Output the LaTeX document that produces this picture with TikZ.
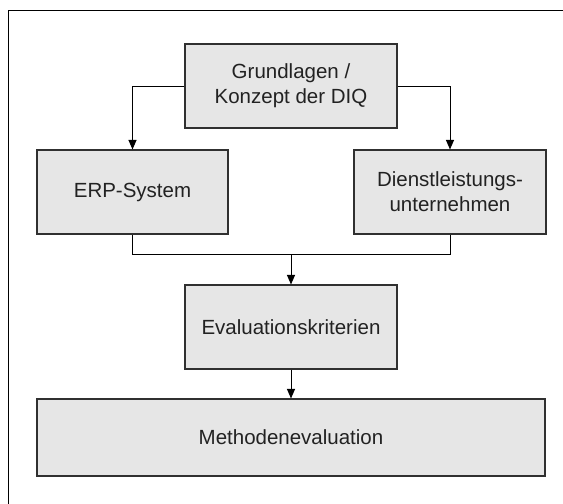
\documentclass[tikz,border=0pt]{standalone}
\usepackage{fontspec}
\setmainfont{Liberation Sans}
\usetikzlibrary{arrows.meta}
\definecolor{boxfill}{HTML}{E6E6E6}
\definecolor{boxline}{HTML}{303030}
\definecolor{txt}{HTML}{222222}
\begin{document}
\begin{tikzpicture}[x=1pt,y=-1pt,
  block/.style={draw=boxline,fill=boxfill,line width=1.1pt,rectangle,
    inner sep=0pt,align=center,text=txt,
    font=\fontsize{20.5}{25}\selectfont},
  link/.style={draw=black,line width=1pt},
  arr/.style={link,-{Triangle[length=9.5pt,width=8pt]}}]
  \useasboundingbox (0,0) rectangle (563,504);
  \clip (0,0) rectangle (563,504);
  \fill[white] (0,0) rectangle (563,504);
  % outer frame
  \draw[black,line width=1pt] (8.5,10) rectangle (580,520);
  % boxes
  \node[block,minimum width=212pt,minimum height=84pt] (grund) at (291,86) {Grundlagen /\\Konzept der DIQ};
  \node[block,minimum width=191pt,minimum height=84pt] (erp) at (132.5,192) {ERP-System};
  \node[block,minimum width=192pt,minimum height=84pt] (dl) at (450,192) {Dienstleistungs-\\unternehmen};
  \node[block,minimum width=212pt,minimum height=84pt] (eval) at (291,327) {Evaluationskriterien};
  \node[block,minimum width=508pt,minimum height=77pt] (meth) at (291,437.5) {Methodenevaluation};
  % connectors
  \draw[arr] (grund.west) -| (erp.north);
  \draw[arr] (grund.east) -| (dl.north);
  \coordinate (merge) at (291,254.5);
  \draw[link] (erp.south) |- (merge) -| (dl.south);
  \draw[arr] (merge) -- (eval.north);
  \draw[arr] (eval.south) -- (meth.north);
\end{tikzpicture}
\end{document}
